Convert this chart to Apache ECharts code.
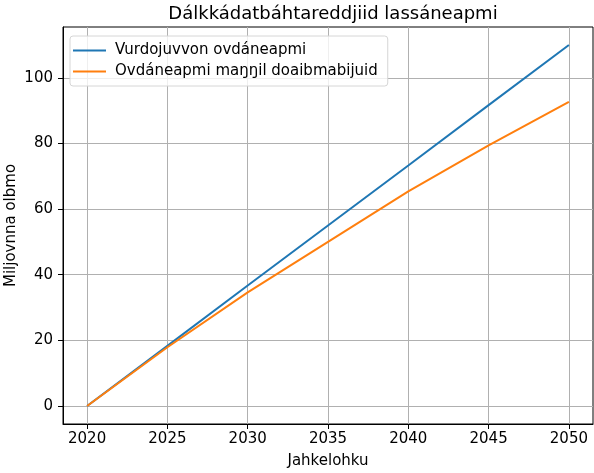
<!DOCTYPE html>
<html>
<head>
<meta charset="utf-8">
<script src="https://cdn.jsdelivr.net/npm/echarts@6/dist/echarts.min.js"></script>
<style>html,body{margin:0;padding:0;background:#fff}#c{width:594px;height:473px}</style>
</head>
<body>
<div id="c"></div>
<script>
var years = [2020, 2025, 2030, 2035, 2040, 2045, 2050];
var expected = [0, 18.3, 36.7, 55.0, 73.3, 91.7, 110.0];
var afterMeasures = [0, 17.9, 34.6, 50.0, 65.4, 79.4, 92.7];
var xTicks = [2020, 2025, 2030, 2035, 2040, 2045, 2050];
var yTicks = [0, 20, 40, 60, 80, 100];
var seriesNames = ['Vurdojuvvon ovdáneapmi', 'Ovdáneapmi maŋŋil doaibmabijuid'];

var font = 'DejaVu Sans';
function pairs(xs, ys) { return xs.map(function (x, i) { return [x, ys[i]]; }); }

var chart = echarts.init(document.getElementById('c'), null, {renderer: 'canvas'});
chart.setOption({
  animation: false,
  backgroundColor: '#fff',
  textStyle: {fontFamily: font},
  title: {
    text: 'Dálkkádatbáhtareddjiid lassáneapmi',
    left: 328, textAlign: 'center', top: 0,
    textStyle: {fontFamily: font, fontSize: 18, fontWeight: 'normal', color: '#000'}
  },
  legend: {
    orient: 'vertical', left: 70, top: 36,
    padding: [7, 10, 7, 3], itemGap: 6,
    itemWidth: 33, itemHeight: 2, icon: 'rect',
    borderColor: '#d6d6d6', borderWidth: 1, borderRadius: 3,
    backgroundColor: 'rgba(255,255,255,0.8)',
    textStyle: {fontFamily: font, fontSize: 15, color: '#000', padding: [0, 0, 0, 4]},
    data: seriesNames
  },
  grid: {left: 63, right: 1, top: 27, bottom: 49, show: true, borderColor: '#000', borderWidth: 1,
         containLabel: false, outerBoundsMode: 'none'},
  xAxis: {
    type: 'value', min: 2018.5, max: 2051.5,
    name: 'Jahkelohku', nameLocation: 'middle', nameGap: 30, nameMoveOverlap: false,
    nameTextStyle: {fontFamily: font, fontSize: 15, color: '#000'},
    axisLine: {show: true, onZero: false, lineStyle: {color: '#000'}},
    axisTick: {show: true, length: 5, lineStyle: {color: '#000'}, customValues: xTicks},
    axisLabel: {fontFamily: font, fontSize: 15, color: '#000', margin: 8, customValues: xTicks, formatter: function (v) { return String(v); }},
    splitLine: {show: true, lineStyle: {color: '#b0b0b0', width: 1}}
  },
  yAxis: {
    type: 'value', min: -5.5, max: 115.5,
    name: 'Miljovnna olbmo', nameLocation: 'middle', nameGap: 44, nameMoveOverlap: false,
    nameTextStyle: {fontFamily: font, fontSize: 15, color: '#000'},
    axisLine: {show: true, onZero: false, lineStyle: {color: '#000'}},
    axisTick: {show: true, length: 5, lineStyle: {color: '#000'}, customValues: yTicks},
    axisLabel: {fontFamily: font, fontSize: 15, color: '#000', margin: 10, customValues: yTicks},
    splitLine: {show: true, lineStyle: {color: '#b0b0b0', width: 1}}
  },
  series: [
    {name: seriesNames[0], type: 'line', data: pairs(years, expected), showSymbol: false, symbol: 'none',
     itemStyle: {color: '#1f77b4'}, lineStyle: {color: '#1f77b4', width: 2}},
    {name: seriesNames[1], type: 'line', data: pairs(years, afterMeasures), showSymbol: false, symbol: 'none',
     itemStyle: {color: '#ff7f0e'}, lineStyle: {color: '#ff7f0e', width: 2}}
  ]
});
</script>
</body>
</html>
